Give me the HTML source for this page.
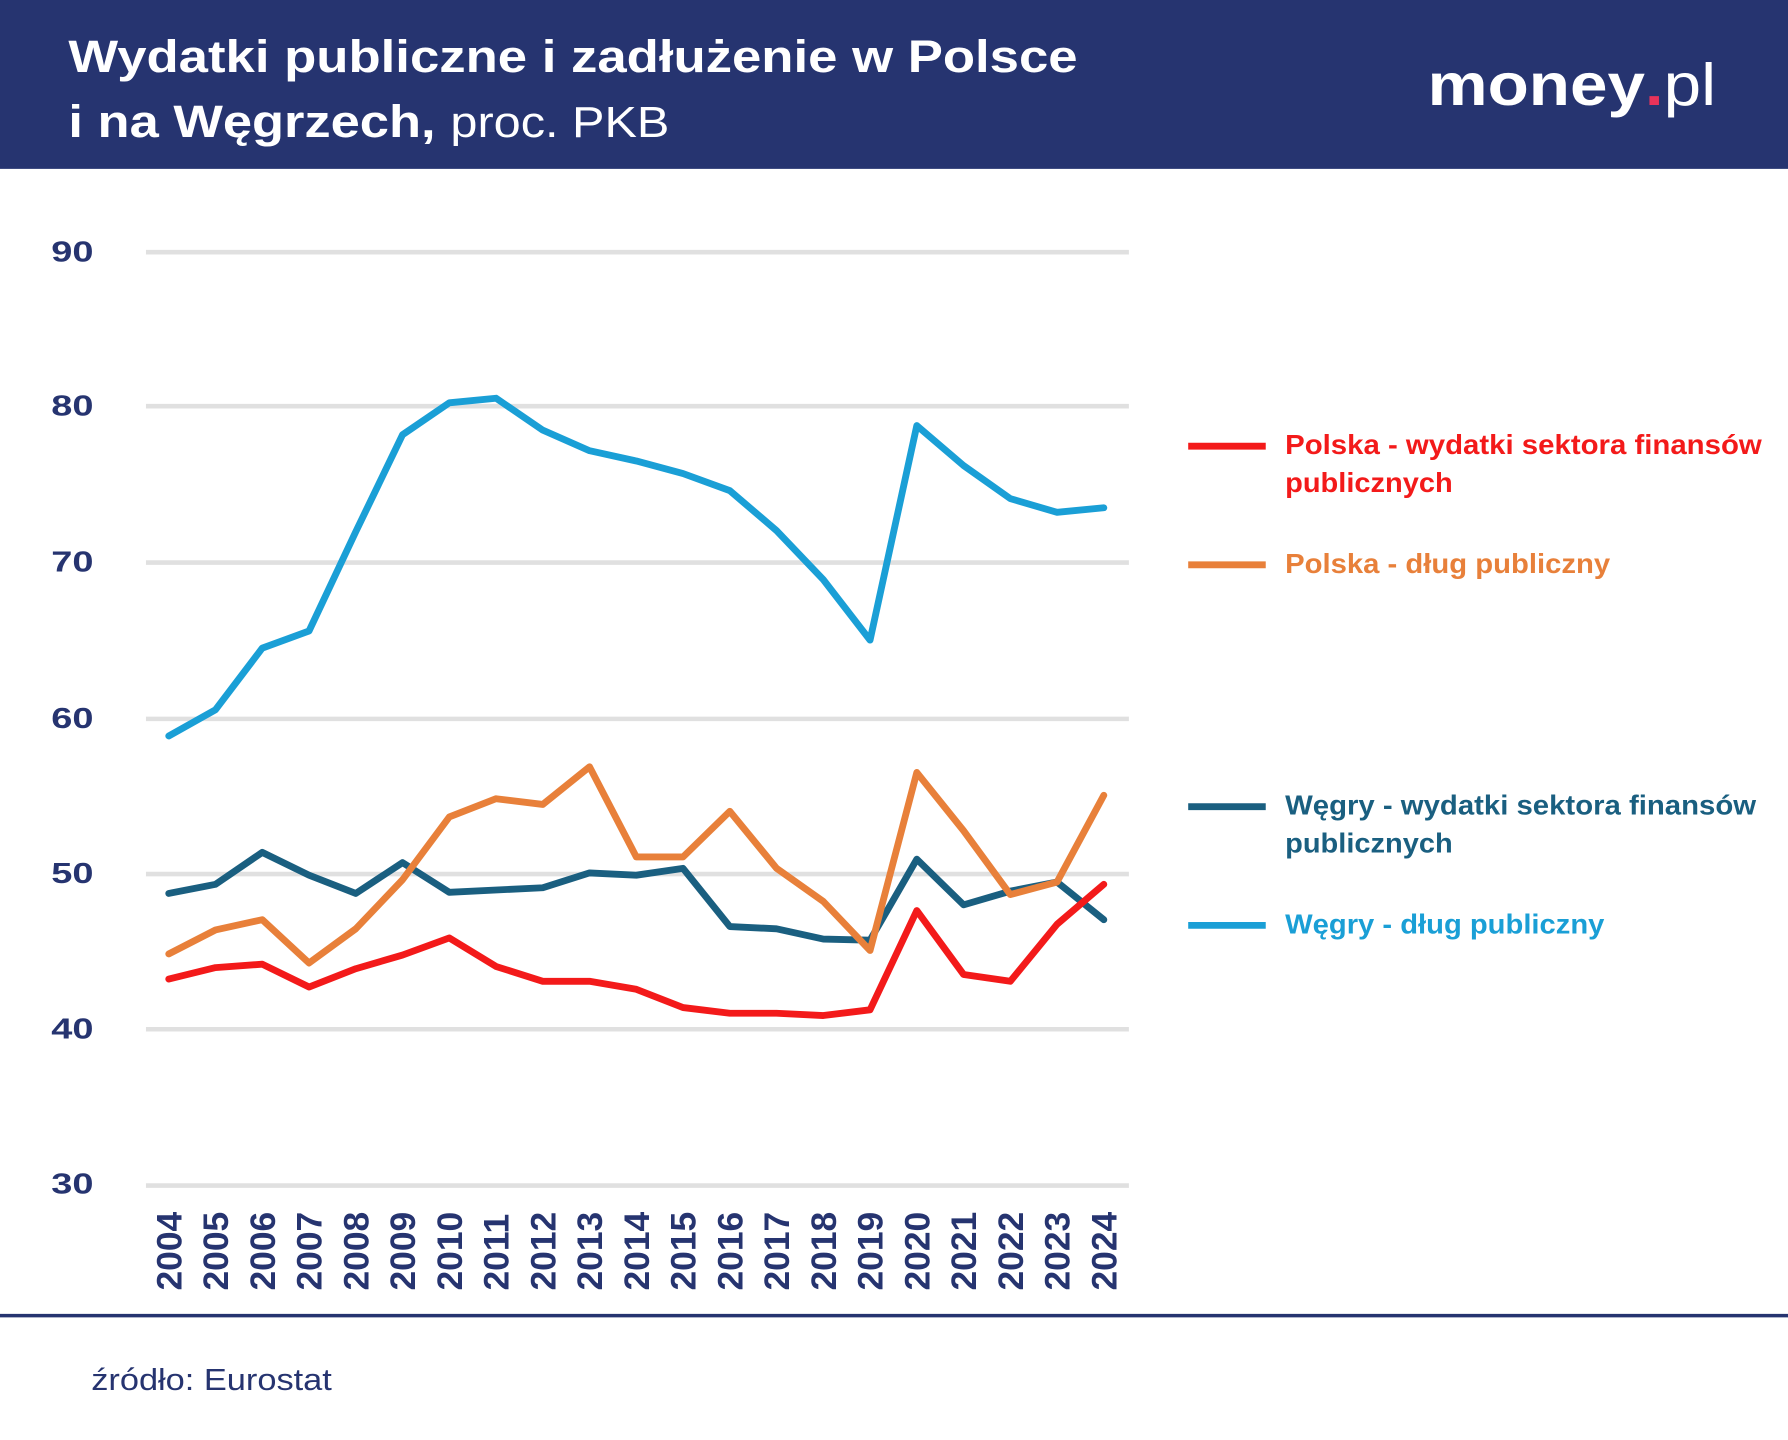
<!DOCTYPE html>
<html><head><meta charset="utf-8"><style>
html,body{margin:0;padding:0;background:#fff;}
svg{display:block;}
text{font-family:"Liberation Sans",sans-serif;}
</style></head><body>
<svg width="1788" height="1440" viewBox="0 0 1568 1262" preserveAspectRatio="none" xmlns="http://www.w3.org/2000/svg">
<rect width="1568" height="1262" fill="#fff"/>
<rect width="1568" height="148" fill="#263470"/>
<text x="60" y="63" fill="#fff" font-size="40" font-weight="bold" textLength="885" lengthAdjust="spacingAndGlyphs">Wydatki publiczne i zadłużenie w Polsce</text>
<text x="60" y="120" fill="#fff" font-size="40" font-weight="bold" textLength="322" lengthAdjust="spacingAndGlyphs">i na Węgrzech,</text>
<text x="395" y="120" fill="#fff" font-size="38" textLength="192" lengthAdjust="spacingAndGlyphs">proc. PKB</text>
<text x="1252" y="92" fill="#fff" font-size="52" font-weight="bold" textLength="253" lengthAdjust="spacingAndGlyphs">money<tspan fill="#e8335a">.</tspan><tspan font-weight="normal">pl</tspan></text>
<g stroke="#e0e0e0" stroke-width="4">
<line x1="128" x2="990" y1="221" y2="221"/><line x1="128" x2="990" y1="356" y2="356"/>
<line x1="128" x2="990" y1="493" y2="493"/><line x1="128" x2="990" y1="630" y2="630"/>
<line x1="128" x2="990" y1="766" y2="766"/><line x1="128" x2="990" y1="902" y2="902"/>
<line x1="128" x2="990" y1="1039" y2="1039"/>
</g>
<g fill="#263470" font-size="25" font-weight="bold">
<text x="45" y="229" textLength="37" lengthAdjust="spacingAndGlyphs">90</text><text x="45" y="364" textLength="37" lengthAdjust="spacingAndGlyphs">80</text><text x="45" y="501" textLength="37" lengthAdjust="spacingAndGlyphs">70</text>
<text x="45" y="638" textLength="37" lengthAdjust="spacingAndGlyphs">60</text><text x="45" y="774" textLength="37" lengthAdjust="spacingAndGlyphs">50</text><text x="45" y="910" textLength="37" lengthAdjust="spacingAndGlyphs">40</text><text x="45" y="1046" textLength="37" lengthAdjust="spacingAndGlyphs">30</text>
</g>
<g fill="#263470" font-size="31" font-weight="bold">
<text transform="translate(159,1131) rotate(-90)">2004</text>
<text transform="translate(200,1131) rotate(-90)">2005</text>
<text transform="translate(241,1131) rotate(-90)">2006</text>
<text transform="translate(282,1131) rotate(-90)">2007</text>
<text transform="translate(323,1131) rotate(-90)">2008</text>
<text transform="translate(364,1131) rotate(-90)">2009</text>
<text transform="translate(405,1131) rotate(-90)">2010</text>
<text transform="translate(446,1131) rotate(-90)">2011</text>
<text transform="translate(487,1131) rotate(-90)">2012</text>
<text transform="translate(528,1131) rotate(-90)">2013</text>
<text transform="translate(569,1131) rotate(-90)">2014</text>
<text transform="translate(610,1131) rotate(-90)">2015</text>
<text transform="translate(651,1131) rotate(-90)">2016</text>
<text transform="translate(692,1131) rotate(-90)">2017</text>
<text transform="translate(733,1131) rotate(-90)">2018</text>
<text transform="translate(774,1131) rotate(-90)">2019</text>
<text transform="translate(815,1131) rotate(-90)">2020</text>
<text transform="translate(856,1131) rotate(-90)">2021</text>
<text transform="translate(897,1131) rotate(-90)">2022</text>
<text transform="translate(938,1131) rotate(-90)">2023</text>
<text transform="translate(979,1131) rotate(-90)">2024</text>
</g>
<g fill="none" stroke-width="6" stroke-linejoin="round" stroke-linecap="round">
<polyline stroke="#1a9fd6" points="148,645 189,622 230,568 271,553 312,466 353,381 394,353 435,349 476,377 517,395 558,404 599,415 640,430 681,465 722,508 763,561 804,373 845,408 886,437 927,449 968,445"/>
<polyline stroke="#1a5f80" points="148,783 189,775 230,747 271,767 312,783 353,756 394,782 435,780 476,778 517,765 558,767 599,761 640,812 681,814 722,823 763,824 804,753 845,793 886,781 927,773 968,806"/>
<polyline stroke="#e8803a" points="148,836 189,815 230,806 271,844 312,814 353,771 394,716 435,700 476,705 517,672 558,751 599,751 640,711 681,761 722,790 763,833 804,677 845,728 886,784 927,773 968,697"/>
<polyline stroke="#f31a1a" points="148,858 189,848 230,845 271,865 312,849 353,837 394,822 435,847 476,860 517,860 558,867 599,883 640,888 681,888 722,890 763,885 804,798 845,854 886,860 927,810 968,775"/>
</g>
<g stroke-width="6">
<line x1="1042" x2="1110" y1="391" y2="391" stroke="#f31a1a"/>
<line x1="1042" x2="1110" y1="495" y2="495" stroke="#e8803a"/>
<line x1="1042" x2="1110" y1="707" y2="707" stroke="#1a5f80"/>
<line x1="1042" x2="1110" y1="811" y2="811" stroke="#1a9fd6"/>
</g>
<g font-size="24" font-weight="bold">
<text x="1127" y="398" fill="#f31a1a" textLength="418" lengthAdjust="spacingAndGlyphs">Polska - wydatki sektora finansów</text>
<text x="1127" y="431" fill="#f31a1a" textLength="147" lengthAdjust="spacingAndGlyphs">publicznych</text>
<text x="1127" y="502" fill="#e8803a" textLength="285" lengthAdjust="spacingAndGlyphs">Polska - dług publiczny</text>
<text x="1127" y="714" fill="#1a5f80" textLength="413" lengthAdjust="spacingAndGlyphs">Węgry - wydatki sektora finansów</text>
<text x="1127" y="747" fill="#1a5f80" textLength="147" lengthAdjust="spacingAndGlyphs">publicznych</text>
<text x="1127" y="818" fill="#1a9fd6" textLength="280" lengthAdjust="spacingAndGlyphs">Węgry - dług publiczny</text>
</g>
<line x1="0" x2="1568" y1="1153" y2="1153" stroke="#263470" stroke-width="3"/>
<text x="80" y="1218" fill="#263470" font-size="27" textLength="211" lengthAdjust="spacingAndGlyphs">źródło: Eurostat</text>
</svg>
</body></html>
